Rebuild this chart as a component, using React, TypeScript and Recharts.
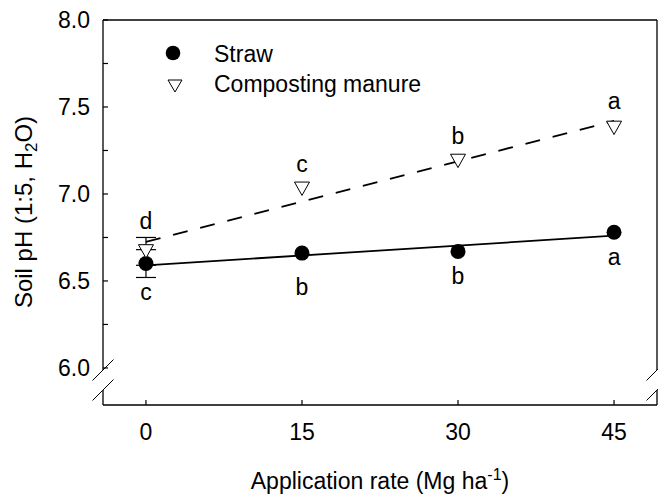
import React from 'react';
import { ComposedChart, Line, Scatter, XAxis, YAxis, ErrorBar, Legend } from 'recharts';

// ---- data ----
const rates = [0, 15, 30, 45];
const strawPH = [6.6, 6.66, 6.67, 6.78];
const strawErr = [0.08, 0, 0, 0];
const strawLetters = ['c', 'b', 'b', 'a'];
const manurePH = [6.67, 7.03, 7.19, 7.38];
const manureErr = [0.08, 0, 0, 0];
const manureLetters = ['d', 'c', 'b', 'a'];
const fitRates = [0, 45];
const strawFitPH = [6.59, 6.76];
const manureFitPH = [6.725, 7.42];
const xTicks = [0, 15, 30, 45];
const yTicks = [6, 6.25, 6.5, 6.75, 7, 7.25, 7.5, 7.75, 8];
const yTickLabels = ['6.0', '', '6.5', '', '7.0', '', '7.5', '', '8.0'];
const seriesNames = ['Straw', 'Composting manure'];

// ---- layout ----
const W = 658;
const H = 496;
const PL = 103;
const PT = 20;
const PR = 657;
const PB = 405;
const FONT = '"Liberation Sans", Arial, sans-serif';
const FS = 23;
const strawLetterDy = [36, 42, 33, 33];
const manureLetterDy = [-22, -17, -17, -19];

const strawData = rates.map((x, i) => ({ x, y: strawPH[i], err: strawErr[i], letter: strawLetters[i], dy: strawLetterDy[i] }));
const manureData = rates.map((x, i) => ({ x, y: manurePH[i], err: manureErr[i], letter: manureLetters[i], dy: manureLetterDy[i] }));
const strawFit = fitRates.map((x, i) => ({ x, y: strawFitPH[i] }));
const manureFit = fitRates.map((x, i) => ({ x, y: manureFitPH[i] }));

const Letter = ({ cx, cy, p }: any) => (
  <text x={cx} y={cy + p.dy} textAnchor="middle" fontFamily={FONT} fontSize={FS} fill="#000">
    {p.letter}
  </text>
);

const CircleShape = (props: any) => {
  const { cx, cy, payload } = props;
  return (
    <g>
      <circle cx={cx} cy={cy} r={7.5} fill="#000" />
      <Letter cx={cx} cy={cy} p={payload} />
    </g>
  );
};

const TriShape = (props: any) => {
  const { cx, cy, payload } = props;
  return (
    <g>
      <polygon
        points={`${cx - 7.5},${cy - 6.7} ${cx + 7.5},${cy - 6.7} ${cx},${cy + 6.7}`}
        fill="#fff"
        stroke="#000"
        strokeWidth={1}
      />
      <Letter cx={cx} cy={cy} p={payload} />
    </g>
  );
};

const YTick = (props: any) => {
  const { y, payload } = props;
  const i = yTicks.indexOf(payload.value);
  const label = i >= 0 ? yTickLabels[i] : '';
  return (
    <g>
      <line x1={PL} x2={PL + 5} y1={y} y2={y} stroke="#000" strokeWidth={1.2} />
      {label ? (
        <text x={PL - 13} y={y} textAnchor="end" dominantBaseline="central" fontFamily={FONT} fontSize={FS} fill="#000">
          {label}
        </text>
      ) : null}
    </g>
  );
};

const XTick = (props: any) => {
  const { x, payload } = props;
  return (
    <g>
      <line x1={x} x2={x} y1={PB} y2={PB - 5} stroke="#000" strokeWidth={1.2} />
      <text x={x} y={PB + 27} textAnchor="middle" dominantBaseline="central" fontFamily={FONT} fontSize={FS} fill="#000">
        {payload.value}
      </text>
    </g>
  );
};

const LegendContent = () => (
  <svg width={W} height={110} style={{ display: 'block' }}>
    <circle cx={173} cy={53} r={7.3} fill="#000" />
    <text x={214} y={62} fontFamily={FONT} fontSize={FS} fill="#000">{seriesNames[0]}</text>
    <polygon points={`${168},${80} ${182},${80} ${175},${92}`} fill="#fff" stroke="#000" strokeWidth={1} />
    <text x={214} y={92} fontFamily={FONT} fontSize={FS} fill="#000">{seriesNames[1]}</text>
  </svg>
);

const Overlay = () => {
  const sw = 1.3;
  const gapTop = 370;
  const gapBot = 390;
  return (
    <svg width={W} height={H} style={{ position: 'absolute', left: 0, top: 0, pointerEvents: 'none' }}>
      {/* frame */}
      <line x1={PL} x2={PR} y1={PT} y2={PT} stroke="#000" strokeWidth={sw} />
      <line x1={PL} x2={PR} y1={PB} y2={PB} stroke="#000" strokeWidth={sw} />
      <line x1={PL} x2={PL} y1={PT} y2={gapTop} stroke="#000" strokeWidth={sw} />
      <line x1={PL} x2={PL} y1={gapBot} y2={PB} stroke="#000" strokeWidth={sw} />
      <line x1={PR} x2={PR} y1={PT} y2={gapTop} stroke="#000" strokeWidth={sw} />
      <line x1={PR} x2={PR} y1={gapBot} y2={PB} stroke="#000" strokeWidth={sw} />
      {/* axis break marks */}
      <line x1={PL - 10.5} y1={gapTop + 10.5} x2={PL + 10.5} y2={gapTop - 10.5} stroke="#000" strokeWidth={1} />
      <line x1={PL - 10.5} y1={gapBot + 10.5} x2={PL + 10.5} y2={gapBot - 10.5} stroke="#000" strokeWidth={1} />
      <line x1={PR - 10.5} y1={gapTop + 10.5} x2={PR + 10.5} y2={gapTop - 10.5} stroke="#000" strokeWidth={1} />
      <line x1={PR - 10.5} y1={gapBot + 10.5} x2={PR + 10.5} y2={gapBot - 10.5} stroke="#000" strokeWidth={1} />
      {/* axis titles */}
      <text x={(PL + PR) / 2} y={489} textAnchor="middle" fontFamily={FONT} fontSize={FS} fill="#000">
        Application rate (Mg ha
        <tspan dy={-9} fontSize={16}>-1</tspan>
        <tspan dy={9}>)</tspan>
      </text>
      <text
        transform="translate(32,212) rotate(-90)"
        x={0}
        y={0}
        textAnchor="middle"
        fontFamily={FONT}
        fontSize={24}
        fill="#000"
      >
        Soil pH (1:5, H
        <tspan dy={5} fontSize={17}>2</tspan>
        <tspan dy={-5}>O)</tspan>
      </text>
    </svg>
  );
};

export default function App() {
  return (
    <div style={{ position: 'relative', width: W, height: H, background: '#fff' }}>
      <style>{`body{margin:0;background:#fff;}`}</style>
      <ComposedChart width={W} height={H} margin={{ top: PT, right: W - PR, left: 0, bottom: 0 }}>
        <XAxis
          dataKey="x"
          type="number"
          domain={[-4.13, 49.13]}
          ticks={xTicks}
          allowDataOverflow
          height={H - PB}
          axisLine={false}
          tickLine={false}
          tickSize={0}
          tickMargin={0}
          tick={XTick}
          interval={0}
        />
        <YAxis
          type="number"
          domain={[5.787, 8]}
          ticks={yTicks}
          allowDataOverflow
          width={PL}
          axisLine={false}
          tickLine={false}
          tickSize={0}
          tickMargin={0}
          tick={YTick}
          interval={0}
        />
        <Legend layout="vertical" align="center" verticalAlign="middle" content={LegendContent}
          wrapperStyle={{ position: 'absolute', left: 0, top: 0, width: W, height: 110, pointerEvents: 'none' }} />
        <Line data={strawFit} dataKey="y" stroke="#000" strokeWidth={1.8} dot={false} activeDot={false} isAnimationActive={false} legendType="none" />
        <Line data={manureFit} dataKey="y" stroke="#000" strokeWidth={1.8} strokeDasharray="15 13" dot={false} activeDot={false} isAnimationActive={false} legendType="none" />
        <Scatter data={strawData} dataKey="y" shape={CircleShape} isAnimationActive={false} name={seriesNames[0]}>
          <ErrorBar dataKey="err" direction="y" width={10} stroke="#000" strokeWidth={1.2} />
        </Scatter>
        <Scatter data={manureData} dataKey="y" shape={TriShape} isAnimationActive={false} name={seriesNames[1]}>
          <ErrorBar dataKey="err" direction="y" width={10} stroke="#000" strokeWidth={1.2} />
        </Scatter>
      </ComposedChart>
      <Overlay />
    </div>
  );
}
